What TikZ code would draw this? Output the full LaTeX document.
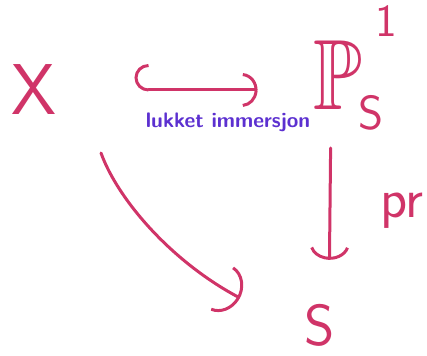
\documentclass[tikz,border=0pt]{standalone}
\usetikzlibrary{arrows.meta,calc}
\definecolor{ink}{RGB}{208,52,104}
\definecolor{violetink}{RGB}{92,48,208}
\begin{document}
\begin{tikzpicture}[x=1pt,y=-1pt,
  every node/.style={inner sep=0pt,outer sep=0pt},
  lbl/.style={text=ink,anchor=base},
  ar/.style={draw=ink,line width=3pt,line cap=round,line join=round}]
\useasboundingbox (0,0) rectangle (427,355);
% objects
\node[lbl,font=\sffamily\fontsize{72}{72}\selectfont] (X) at (34,115) {X};
\node[lbl,xscale=0.8,font=\usefont{U}{msb}{m}{n}\fontsize{100}{100}\selectfont] (P) at (338,110) {P};
\node[lbl,font=\sffamily\fontsize{46}{46}\selectfont] (Psup) at (386,37) {1};
\node[lbl,font=\sffamily\fontsize{48}{48}\selectfont] (Psub) at (371,130) {S};
\node[lbl,font=\sffamily\fontsize{58}{58}\selectfont] (S) at (320,345) {S};
% labels
\node[anchor=base,text=violetink,font=\sffamily\bfseries\fontsize{21}{21}\selectfont] (lab) at (228,128) {lukket immersjon};
\node[lbl,font=\sffamily\fontsize{56}{56}\selectfont] (pr) at (402,217) {pr};
% connectors
\draw[ar,{Hooks[arc=180,right,width=52pt,length=14pt]}-{Arc Barb[arc=170,width=34pt,length=16pt]},
  shorten <=78pt, shorten >=56pt] (X.east |- 0,90) -- (P.west |- 0,90);
\draw[ar,-{Arc Barb[arc=150,width=40pt,length=16pt]},shorten <=38pt,shorten >=44pt]
  (P.south -| 331,0) -- (S.north -| 329,0);
\coordinate (c1) at (101,153);
\coordinate (c2) at (240,298);
\draw[ar,-{Arc Barb[arc=170,width=50pt,length=22pt]}] (c1) .. controls (118,200) and (172,262) .. (c2);
\end{tikzpicture}
\end{document}
